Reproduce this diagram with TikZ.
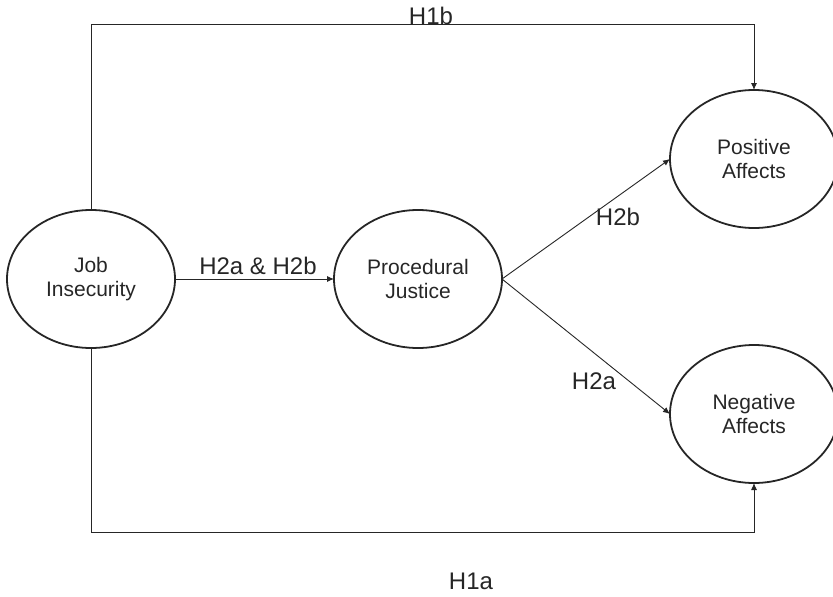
\documentclass[tikz,border=0pt]{standalone}
\usepackage{fontspec}
\setmainfont{Liberation Sans}
\usetikzlibrary{shapes.geometric,arrows.meta}

\begin{document}
\begin{tikzpicture}[x=1pt,y=-1pt,->,>={Latex[length=7pt,width=6pt]},
    latent/.style={draw,shape=ellipse,line width=1.8pt,minimum width=168pt,minimum height=138pt,inner sep=0pt,outer sep=0pt,align=center,font=\fontsize{21}{24}\selectfont},
    hyp/.style={font=\fontsize{24}{28}\selectfont,inner sep=0pt},line width=0.9pt,black!85]
    \useasboundingbox (0,0) rectangle (833,597);

    \node[latent] (1) at (91,279) {Job\\Insecurity};
    \node[latent] (2) at (418,279) {Procedural\\Justice};
    \node[latent] (3) at (754,159) {Positive\\Affects};
    \node[latent] (4) at (754,414) {Negative\\Affects};

    \draw (1) -- (2);
    \draw (2.east) -- (3.west);
    \draw (2.east) -- (4.west);
    \draw (1.north) -- ++(0,-186) -| (3.north);
    \draw (1.south) -- ++(0,184) -| (4.south);

    \node[hyp] (h1b) at (431,16) {H1b};
    \node[hyp] (h1a) at (471,581) {H1a};
    \node[hyp] (h2ab) at (258,266) {H2a \& H2b};
    \node[hyp] (h2b) at (618,217) {H2b};
    \node[hyp] (h2a) at (594,381) {H2a};
\end{tikzpicture}
\end{document}
